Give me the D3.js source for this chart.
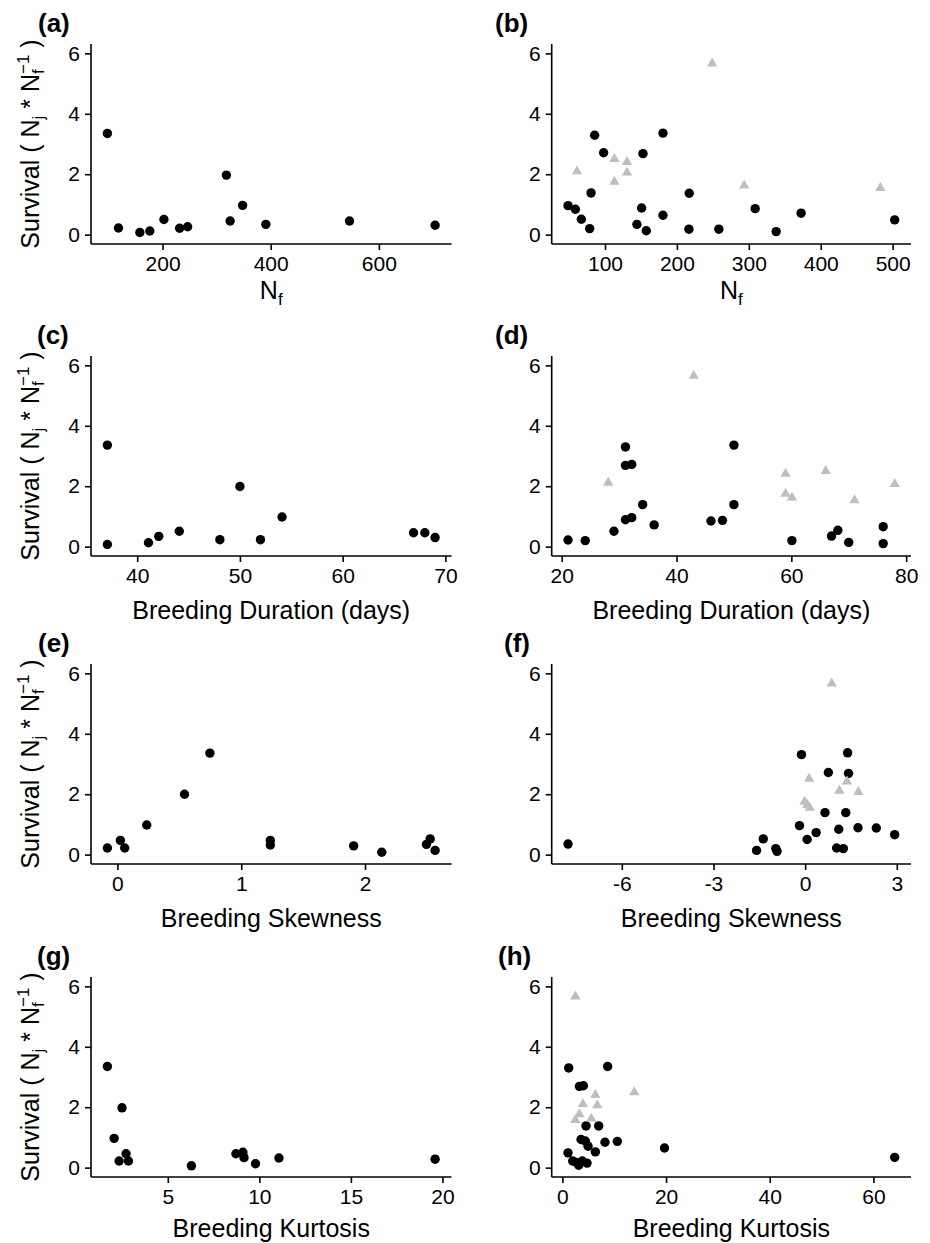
<!DOCTYPE html>
<html>
<head>
<meta charset="utf-8">
<script src="https://cdn.jsdelivr.net/npm/d3@7"></script>
<style>
  html, body { margin: 0; padding: 0; background: #fff; }
  svg { display: block; font-family: "Liberation Sans", Arial, sans-serif; }
</style>
</head>
<body>
<svg id="chart" width="930" height="1243"></svg>
<script>
// ---------------- DATA ----------------
const yTicks = [0, 2, 4, 6];

// (a) N_f, dataset 1
const aX = [98, 118.5, 158, 176.5, 202.5, 231.5, 246.3, 318, 325, 348, 391, 545.7, 704];
const aY = [3.35, 0.22, 0.07, 0.12, 0.50, 0.21, 0.26, 1.97, 0.45, 0.97, 0.34, 0.45, 0.31];
const aTicks = [200, 400, 600];

// (b) N_f, dataset 2
const bCircX = [48.6, 58.8, 67.1, 78.7, 80.6, 85.6, 98.1, 144.4, 150.9, 152.8, 157.4, 180.6, 180.6, 217.1, 216.7, 258.3, 308.8, 338, 372.7, 502.8];
const bCircY = [0.96, 0.84, 0.51, 0.20, 1.38, 3.29, 2.71, 0.34, 0.88, 2.68, 0.13, 3.36, 0.64, 1.37, 0.18, 0.18, 0.86, 0.10, 0.71, 0.49];
const bTriX = [61.1, 113, 113, 130.6, 130.6, 249, 293.5, 482.9];
const bTriY = [2.12, 2.53, 1.78, 2.43, 2.08, 5.69, 1.65, 1.57];
const bTicks = [100, 200, 300, 400, 500];

// (c) Breeding duration, dataset 1
const cX = [37.1, 37.1, 41.1, 42.1, 44.1, 48.05, 50.0, 52.0, 54.1, 66.9, 68.0, 69.0];
const cY = [3.36, 0.07, 0.13, 0.34, 0.51, 0.23, 1.99, 0.23, 0.98, 0.46, 0.46, 0.30];
const cTicks = [40, 50, 60, 70];

// (d) Breeding duration, dataset 2
const dCircX = [21.1, 24.1, 29.1, 31.1, 31.1, 32.2, 31.1, 32.2, 34.1, 36.1, 46.0, 48.0, 50.0, 50.0, 60.1, 67.0, 68.1, 70.0, 76.0, 76.0];
const dCircY = [0.22, 0.20, 0.51, 3.30, 2.69, 2.72, 0.89, 0.96, 1.39, 0.72, 0.85, 0.87, 3.36, 1.39, 0.20, 0.35, 0.54, 0.14, 0.66, 0.10];
const dTriX = [28.1, 43.0, 59.0, 59.0, 60.1, 66.0, 71.0, 78.0];
const dTriY = [2.14, 5.68, 2.44, 1.78, 1.65, 2.53, 1.56, 2.10];
const dTicks = [20, 40, 60, 80];

// (e) Breeding skewness, dataset 1
const eX = [-0.081, 0.024, 0.059, 0.237, 0.542, 0.747, 1.235, 1.235, 1.908, 2.135, 2.496, 2.526, 2.566];
const eY = [0.22, 0.47, 0.22, 0.98, 2.00, 3.36, 0.47, 0.32, 0.29, 0.08, 0.34, 0.52, 0.14];
const eTicks = [0, 1, 2];

// (f) Breeding skewness, dataset 2
const fCircX = [-7.76, -1.59, -1.37, -0.96, -0.92, -0.185, -0.12, 0.065, 0.36, 0.65, 0.76, 1.03, 1.10, 1.25, 1.33, 1.39, 1.42, 1.73, 2.33, 2.93];
const fCircY = [0.35, 0.14, 0.52, 0.20, 0.11, 0.96, 3.31, 0.50, 0.73, 1.39, 2.72, 0.22, 0.84, 0.20, 1.39, 3.37, 2.69, 0.89, 0.88, 0.66];
const fTriX = [0.87, 0.13, 1.37, 1.12, 1.74, -0.02, 0.07, 0.15];
const fTriY = [5.69, 2.54, 2.45, 2.14, 2.10, 1.78, 1.67, 1.58];
const fTicks = [-6, -3, 0, 3];

// (g) Breeding kurtosis, dataset 1
const gX = [1.70, 2.07, 2.34, 2.50, 2.72, 2.85, 6.29, 8.72, 9.10, 9.16, 9.79, 11.07, 19.6];
const gY = [3.35, 0.97, 0.22, 1.98, 0.46, 0.22, 0.06, 0.46, 0.51, 0.33, 0.13, 0.32, 0.28];
const gTicks = [5, 10, 15, 20];

// (h) Breeding kurtosis, dataset 2
const hCircX = [1.09, 1.22, 1.99, 2.70, 3.15, 3.28, 3.60, 3.85, 4.05, 4.43, 4.56, 4.75, 4.95, 6.36, 7.0, 8.22, 8.73, 10.6, 19.7, 64.1];
const hCircY = [0.49, 3.30, 0.22, 0.17, 0.08, 2.69, 0.93, 0.22, 2.71, 0.88, 1.38, 0.15, 0.71, 0.52, 1.38, 0.84, 3.35, 0.87, 0.65, 0.34];
const hTriX = [2.5, 6.36, 13.87, 3.98, 6.74, 3.28, 5.59, 2.5];
const hTriY = [5.69, 2.43, 2.52, 2.13, 2.09, 1.79, 1.65, 1.60];
const hTicks = [0, 20, 40, 60];

// ---------------- LAYOUT ----------------
const colX = [[91, 451.5], [551.7, 911]];
const rowTop = [44, 356, 664, 977];
const titleOffset = [55, 63, 63, 60];
const plotH = 200;
const yDomain = [-0.31, 6.31];

const panels = [
  {lab: "(a)", col: 0, row: 0, labX: 38, cx: aX, cy: aY, tx: [], ty: [], ticks: aTicks, title: "Nf"},
  {lab: "(b)", col: 1, row: 0, labX: 495, cx: bCircX, cy: bCircY, tx: bTriX, ty: bTriY, ticks: bTicks, title: "Nf"},
  {lab: "(c)", col: 0, row: 1, labX: 37, cx: cX, cy: cY, tx: [], ty: [], ticks: cTicks, title: "Breeding Duration (days)"},
  {lab: "(d)", col: 1, row: 1, labX: 495, cx: dCircX, cy: dCircY, tx: dTriX, ty: dTriY, ticks: dTicks, title: "Breeding Duration (days)"},
  {lab: "(e)", col: 0, row: 2, labX: 38, cx: eX, cy: eY, tx: [], ty: [], ticks: eTicks, title: "Breeding Skewness"},
  {lab: "(f)", col: 1, row: 2, labX: 504, cx: fCircX, cy: fCircY, tx: fTriX, ty: fTriY, ticks: fTicks, title: "Breeding Skewness"},
  {lab: "(g)", col: 0, row: 3, labX: 37, cx: gX, cy: gY, tx: [], ty: [], ticks: gTicks, title: "Breeding Kurtosis"},
  {lab: "(h)", col: 1, row: 3, labX: 498, cx: hCircX, cy: hCircY, tx: hTriX, ty: hTriY, ticks: hTicks, title: "Breeding Kurtosis"}
];

const svg = d3.select("#chart");
const tickFont = 21, titleFont = 25, labFont = 26;
const triPath = d3.symbol().type(d3.symbolTriangle).size(46)();

panels.forEach(p => {
  const [x0, x1] = colX[p.col];
  const top = rowTop[p.row], bottom = top + plotH;
  const allX = p.cx.concat(p.tx);
  const ext = d3.extent(allX);
  const pad = (ext[1] - ext[0]) * 0.05;
  const x = d3.scaleLinear().domain([ext[0] - pad, ext[1] + pad]).range([x0, x1]);
  const y = d3.scaleLinear().domain(yDomain).range([bottom, top]);

  const g = svg.append("g");

  const xAxis = d3.axisBottom(x).tickValues(p.ticks).tickSize(6).tickPadding(6)
    .tickFormat(d => String(d));
  const yAxis = d3.axisLeft(y).tickValues(yTicks).tickSize(6).tickPadding(5)
    .tickFormat(d => String(d));

  const gx = g.append("g").attr("transform", `translate(0,${bottom})`).call(xAxis);
  const gy = g.append("g").attr("transform", `translate(${x0},0)`).call(yAxis);
  [gx, gy].forEach(a => {
    a.select(".domain").attr("stroke", "#000").attr("stroke-width", 1.6);
    a.selectAll(".tick line").attr("stroke", "#000").attr("stroke-width", 1.6);
    a.selectAll(".tick text").attr("fill", "#000").attr("font-size", tickFont)
      .attr("font-family", "Liberation Sans, Arial, sans-serif");
  });
  gx.select(".domain").attr("d", `M${x0},0H${x1}`);
  gy.select(".domain").attr("d", `M0,${top}V${bottom}`);

  // circles
  g.append("g").selectAll("circle")
    .data(p.cx.map((v, i) => [v, p.cy[i]]))
    .join("circle")
    .attr("cx", d => x(d[0]))
    .attr("cy", d => y(d[1]))
    .attr("r", 4.7)
    .attr("fill", "#000");

  // triangles
  g.append("g").selectAll("path")
    .data(p.tx.map((v, i) => [v, p.ty[i]]))
    .join("path")
    .attr("d", triPath)
    .attr("transform", d => `translate(${x(d[0])},${y(d[1]) + 0.8})`)
    .attr("fill", "#bebebe");

  // x title
  const cxm = (x0 + x1) / 2;
  const ty = bottom + titleOffset[p.row];
  if (p.title === "Nf") {
    const t = g.append("text")
      .attr("x", cxm).attr("y", ty)
      .attr("text-anchor", "middle")
      .attr("font-size", titleFont).attr("fill", "#000");
    t.append("tspan").text("N");
    t.append("tspan").attr("font-size", 17).attr("dy", 6).text("f");
  } else {
    g.append("text")
      .attr("x", cxm).attr("y", ty)
      .attr("text-anchor", "middle")
      .attr("font-size", titleFont).attr("fill", "#000")
      .text(p.title);
  }

  // y title (left column only)
  if (p.col === 0) {
    const t = g.append("text")
      .attr("transform", `translate(39,${(top + bottom) / 2}) rotate(-90)`)
      .attr("text-anchor", "middle")
      .attr("font-size", titleFont).attr("fill", "#000");
    t.append("tspan").text("Survival ( N");
    t.append("tspan").attr("font-size", 17).attr("dy", 5).text("j");
    t.append("tspan").attr("dy", -5).text(" * N");
    t.append("tspan").attr("font-size", 17).attr("dy", 5).text("f");
    t.append("tspan").attr("font-size", 17).attr("dx", -4.7).attr("dy", -15).text("\u22121");
    t.append("tspan").attr("dy", 10).text(" )");
  }

  // panel label
  g.append("text")
    .attr("x", p.labX).attr("y", top - 12)
    .attr("font-size", labFont).attr("font-weight", "bold").attr("fill", "#000")
    .text(p.lab);
});
</script>
</body>
</html>
